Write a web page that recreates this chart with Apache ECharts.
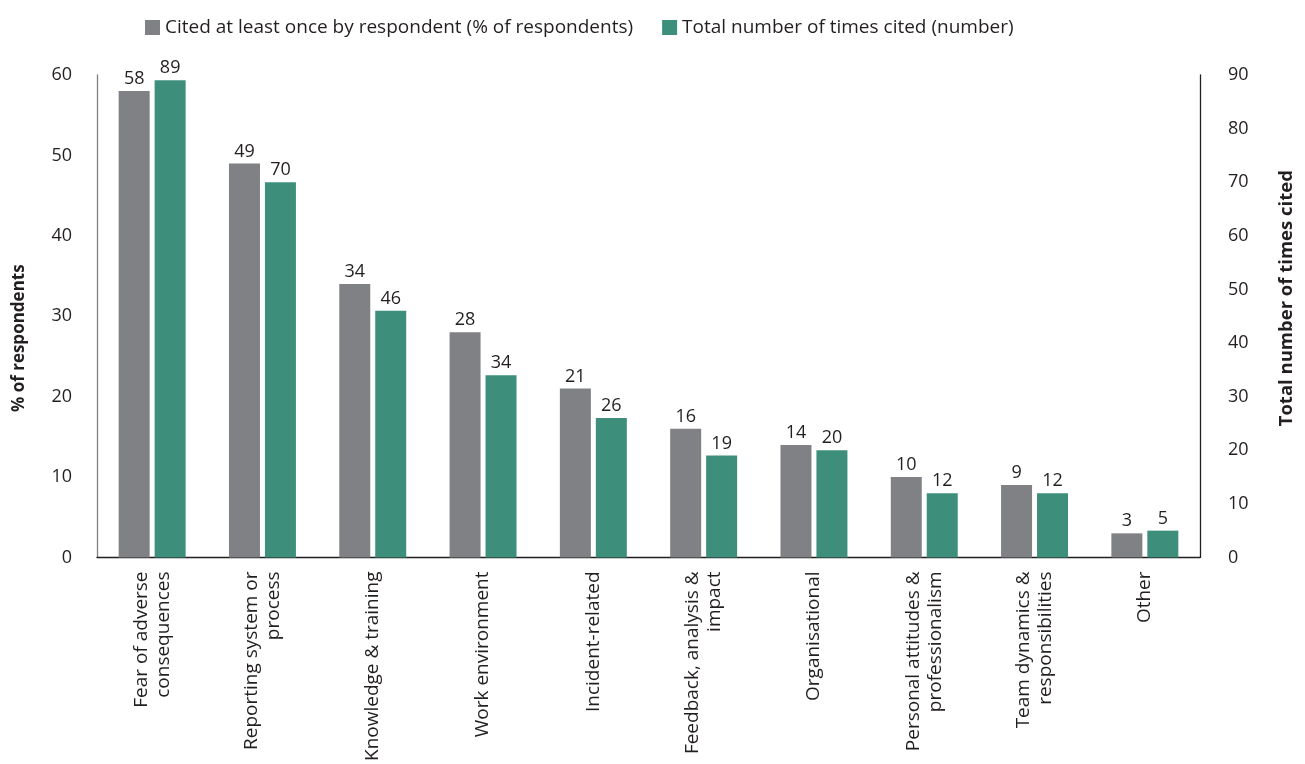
<!DOCTYPE html>
<html>
<head>
<meta charset="utf-8">
<script src="https://cdn.jsdelivr.net/npm/echarts@6/dist/echarts.min.js"></script>
<style>html,body{margin:0;padding:0;background:#fff}#c{width:1305px;height:764px}</style>
</head>
<body>
<div id="c"></div>
<script>
const categories = ["Fear of adverse\nconsequences","Reporting system or\nprocess","Knowledge & training","Work environment","Incident-related","Feedback, analysis &\nimpact","Organisational","Personal attitudes &\nprofessionalism","Team dynamics &\nresponsibilities","Other"];
const pctRespondents = [58,49,34,28,21,16,14,10,9,3];
const timesCited = [89,70,46,34,26,19,20,12,12,5];
const leftTicks = {min:0,max:60,interval:10};
const rightTicks = {min:0,max:90,interval:10};
const seriesNames = ["Cited at least once by respondent (% of respondents)","Total number of times cited (number)"];

const FONT = "'Open Sans', sans-serif";
const TXT = "#231f20";
const chart = echarts.init(document.getElementById('c'), null, {renderer:'canvas'});
chart.setOption({
  animation:false,
  textStyle:{fontFamily:FONT,color:TXT},
  legend:{
    top:13,left:140,itemWidth:15,itemHeight:15,itemGap:29,
    icon:'rect',
    textStyle:{fontFamily:FONT,fontSize:19,color:TXT},
    data:seriesNames
  },
  grid:{left:97,right:105,top:75,bottom:206,containLabel:false},
  xAxis:{
    type:'category',data:categories,
    axisLine:{lineStyle:{color:'#231f20',width:1.3}},
    axisTick:{show:false},
    axisLabel:{rotate:90,interval:0,margin:14,fontSize:19,color:TXT,fontFamily:FONT,lineHeight:22}
  },
  yAxis:[
    {type:'value',min:leftTicks.min,max:leftTicks.max,interval:leftTicks.interval,
     name:'% of respondents',nameLocation:'middle',nameGap:69,nameRotate:90,
     nameTextStyle:{fontWeight:'bold',fontSize:17,color:TXT,fontFamily:FONT,padding:[0,44,0,0]},
     axisLine:{show:true,lineStyle:{color:'#808184',width:1.3}},axisTick:{show:false},
     splitLine:{show:false},
     axisLabel:{margin:25,fontSize:18,color:TXT,fontFamily:FONT}},
    {type:'value',min:rightTicks.min,max:rightTicks.max,interval:rightTicks.interval,position:'right',
     name:'Total number of times cited',nameLocation:'middle',nameGap:77,nameRotate:90,
     nameTextStyle:{fontWeight:'bold',fontSize:18.5,color:TXT,fontFamily:FONT,padding:[0,0,0,36]},
     axisLine:{show:true,lineStyle:{color:'#231f20',width:1.3}},axisTick:{show:false},
     splitLine:{show:false},
     axisLabel:{margin:28,fontSize:18,color:TXT,fontFamily:FONT}}
  ],
  series:[
    {name:seriesNames[0],type:'bar',yAxisIndex:0,data:pctRespondents,barWidth:31,barGap:'16%',
     itemStyle:{color:'#808184'},
     label:{show:true,position:'top',distance:3,fontSize:18,color:TXT,fontFamily:FONT}},
    {name:seriesNames[1],type:'bar',yAxisIndex:1,data:timesCited,barWidth:31,barGap:'16%',
     itemStyle:{color:'#3d8f7b'},
     label:{show:true,position:'top',distance:3,fontSize:18,color:TXT,fontFamily:FONT}}
  ]
});
</script>
</body>
</html>
